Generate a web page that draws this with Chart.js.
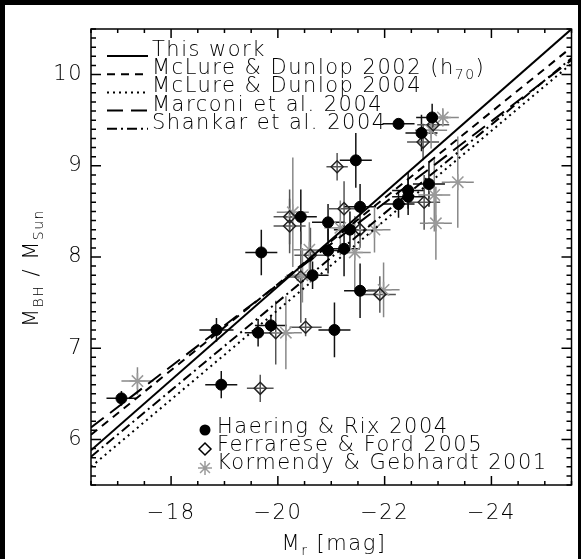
<!DOCTYPE html>
<html>
<head>
<meta charset="utf-8">
<script src="https://cdn.jsdelivr.net/npm/chart.js@4.4.0/dist/chart.umd.min.js"></script>
<style>
  html, body { margin: 0; padding: 0; background: #000; }
  #wrap { width: 581px; height: 559px; position: relative; }
</style>
</head>
<body>
<div id="wrap"><canvas id="chart"></canvas></div>
<script>
const FONT = "'DejaVu Sans', sans-serif";
const WEIGHT = 200;

// axis ranges and tick labels
const magRange = [-25.5, -16.5];
const mbhRange = [5.5, 10.5];
const xTickValues = [-24, -22, -20, -18];
const yTickValues = [6, 7, 8, 9, 10];

// Haering & Rix 2004
const haeringMag = [-17.07, -18.85, -18.94, -19.63, -19.87, -19.69, -21.06, -20.43, -20.94, -20.94, -21.24, -21.35,
  -21.54, -21.54, -21.46, -22.26, -22.69, -22.89, -22.26, -22.44, -22.44, -22.83, -20.65];
const haeringMbh = [6.45, 7.20, 6.60, 7.17, 7.25, 8.05, 7.20, 8.44, 8.38, 8.07, 8.09, 8.30,
  8.55, 7.63, 9.06, 9.46, 9.36, 9.53, 8.58, 8.73, 8.66, 8.80, 7.80];
const haeringMagErr = [0.28, 0.32, 0.30, 0.25, 0.30, 0.30, 0.30, 0.30, 0.30, 0.30, 0.30, 0.30,
  0.30, 0.30, 0.30, 0.30, 0.30, 0.30, 0.30, 0.30, 0.30, 0.30, 0.30];
const haeringMbhErr = [0.08, 0.13, 0.15, 0.15, 0.10, 0.25, 0.30, 0.30, 0.20, 0.25, 0.30, 0.20,
  0.25, 0.30, 0.30, 0.05, 0.20, 0.15, 0.15, 0.20, 0.20, 0.25, 0.15];

// Ferrarese & Ford 2005
const ferrMag = [-19.67, -19.96, -20.52, -20.22, -20.22, -20.61, -20.43, -21.11, -21.24, -21.54, -21.91, -22.74, -22.72, -22.91];
const ferrMbh = [6.56, 7.17, 7.23, 8.44, 8.34, 8.02, 7.78, 8.99, 8.53, 8.30, 7.59, 8.60, 9.26, 9.45];
const ferrMagErr = [0.25, 0.30, 0.30, 0.30, 0.30, 0.30, 0.30, 0.20, 0.30, 0.30, 0.30, 0.30, 0.30, 0.30];
const ferrMbhErr = [0.15, 0.35, 0.10, 0.30, 0.30, 0.30, 0.50, 0.15, 0.30, 0.20, 0.20, 0.30, 0.20, 0.10];

// Kormendy & Gebhardt 2001
const kormMag = [-17.37, -20.15, -20.28, -20.59, -20.46, -21.17, -21.44, -21.81, -21.98, -23.09, -23.37, -22.93, -22.96, -22.87];
const kormMbh = [6.64, 7.17, 8.49, 8.08, 7.80, 8.32, 8.05, 8.30, 7.64, 9.53, 8.82, 8.68, 8.37, 9.39];
const kormMagErr = [0.30, 0.30, 0.30, 0.30, 0.30, 0.30, 0.30, 0.30, 0.30, 0.30, 0.30, 0.30, 0.30, 0.30];
const kormMbhErr = [0.15, 0.40, 0.60, 0.30, 0.30, 0.30, 0.40, 0.25, 0.30, 0.10, 0.50, 0.40, 0.40, 0.20];

// fitted relations, value at the faint and bright ends of the axis
const fitNames = ['This work', 'McLure & Dunlop 2002 (h', 'McLure & Dunlop 2004', 'Marconi et al. 2004', 'Shankar et al. 2004'];
const fitMagEnds = [-16.5, -25.5];
const fitAtFaint = [5.88, 6.05, 5.70, 6.13, 5.81];
const fitAtBright = [10.50, 10.30, 10.12, 10.16, 10.18];
const fitDashes = [[], [8, 6], [2, 4], [16, 8], [10, 4, 2, 4]];

const sampleNames = ['Haering & Rix 2004', 'Ferrarese & Ford 2005', 'Kormendy & Gebhardt 2001'];

const toPoints = (xs, ys) => xs.map((v, i) => ({ x: v, y: ys[i] }));

function drawRich(ctx, parts, x, y, align) {
  let w = 0;
  const fontOf = p => WEIGHT + ' ' + (p.sub ? '14px ' : '21px ') + FONT;
  parts.forEach(p => { ctx.font = fontOf(p); w += ctx.measureText(p.t).width; });
  let cx = align === 'center' ? x - w / 2 : x;
  parts.forEach(p => {
    ctx.font = fontOf(p);
    ctx.fillText(p.t, cx, p.sub ? y + 5 : y);
    cx += ctx.measureText(p.t).width;
  });
}

const errorBars = {
  id: 'errorBars',
  beforeDatasetsDraw(chart) {
    const { ctx, chartArea, scales: { x, y } } = chart;
    ctx.save();
    ctx.beginPath();
    ctx.rect(chartArea.left, chartArea.top, chartArea.width, chartArea.height);
    ctx.clip();
    chart.data.datasets.forEach(ds => {
      if (!ds.errX) return;
      ctx.strokeStyle = ds.errColor;
      ctx.lineWidth = 1.5;
      ds.data.forEach((p, i) => {
        const px = x.getPixelForValue(p.x), py = y.getPixelForValue(p.y);
        ctx.beginPath();
        ctx.moveTo(x.getPixelForValue(p.x - ds.errX[i]), py);
        ctx.lineTo(x.getPixelForValue(p.x + ds.errX[i]), py);
        ctx.moveTo(px, y.getPixelForValue(p.y - ds.errY[i]));
        ctx.lineTo(px, y.getPixelForValue(p.y + ds.errY[i]));
        ctx.stroke();
      });
    });
    ctx.restore();
  }
};

const decorations = {
  id: 'decorations',
  beforeDraw(chart) {
    const ctx = chart.ctx;
    ctx.fillStyle = '#000';
    ctx.fillRect(0, 0, chart.width, chart.height);
    ctx.fillStyle = '#fff';
    ctx.fillRect(5, 5, 573, chart.height - 5);
    ctx.letterSpacing = '1.5px';
  },
  afterDraw(chart) {
    const { ctx, chartArea: a, scales: { x, y } } = chart;
    ctx.save();
    ctx.strokeStyle = '#000';
    ctx.lineWidth = 1.5;
    ctx.strokeRect(a.left, a.top, a.width, a.height);

    // inward ticks on all four sides
    ctx.beginPath();
    for (let k = 0; k <= 18; k++) {
      const v = magRange[0] + k * 0.5;
      const len = Math.abs(v % 2) < 1e-6 ? 9 : 4;
      const px = x.getPixelForValue(v);
      ctx.moveTo(px, a.bottom); ctx.lineTo(px, a.bottom - len);
      ctx.moveTo(px, a.top); ctx.lineTo(px, a.top + len);
    }
    for (let k = 0; k <= 50; k++) {
      const v = mbhRange[0] + k * 0.1;
      const len = k % 10 === 5 ? 10 : 5;
      const py = y.getPixelForValue(v);
      ctx.moveTo(a.left, py); ctx.lineTo(a.left + len, py);
      ctx.moveTo(a.right, py); ctx.lineTo(a.right - len, py);
    }
    ctx.stroke();

    ctx.fillStyle = '#000';
    ctx.textAlign = 'left';
    ctx.textBaseline = 'alphabetic';
    ctx.letterSpacing = '1.5px';

    // fit legend
    chart.data.datasets.filter(ds => ds.fitIndex !== undefined).forEach(ds => {
      const i = ds.fitIndex;
      const by = 56 + i * 18.2;
      ctx.save();
      ctx.lineWidth = 2;
      ctx.setLineDash(ds.borderDash || []);
      ctx.beginPath();
      ctx.moveTo(107, by); ctx.lineTo(148, by);
      ctx.stroke();
      ctx.restore();
      const parts = i === 1 ? [{ t: fitNames[i] }, { t: '70', sub: true }, { t: ')' }] : [{ t: fitNames[i] }];
      drawRich(ctx, parts, 152, by, 'left');
    });

    // sample legend
    const mx = 205;
    const rows = [433, 451, 469];
    ctx.fillStyle = '#000';
    ctx.beginPath(); ctx.arc(mx, rows[0] - 3, 5.5, 0, Math.PI * 2); ctx.fill();
    ctx.lineWidth = 1.5;
    ctx.beginPath();
    ctx.moveTo(mx - 6, rows[1] - 2); ctx.lineTo(mx, rows[1] - 8); ctx.lineTo(mx + 6, rows[1] - 2); ctx.lineTo(mx, rows[1] + 4);
    ctx.closePath(); ctx.stroke();
    ctx.strokeStyle = '#9a9a9a';
    ctx.beginPath();
    const sy = rows[2] - 1, r = 7;
    for (let k = 0; k < 4; k++) {
      const ang = k * Math.PI / 4;
      ctx.moveTo(mx - r * Math.cos(ang), sy - r * Math.sin(ang));
      ctx.lineTo(mx + r * Math.cos(ang), sy + r * Math.sin(ang));
    }
    ctx.stroke();
    sampleNames.forEach((n, i) => drawRich(ctx, [{ t: n }], 217, rows[i], 'left'));

    // axis titles
    drawRich(ctx, [{ t: 'M' }, { t: 'r', sub: true }, { t: ' [mag]' }], 334, 550, 'center');
    ctx.translate(38, 268);
    ctx.rotate(-Math.PI / 2);
    drawRich(ctx, [{ t: 'M' }, { t: 'BH', sub: true }, { t: ' / M' }, { t: 'Sun', sub: true }], 0, 0, 'center');
    ctx.restore();
  }
};

const fitDatasets = fitNames.map((n, i) => ({
  label: n,
  fitIndex: i,
  data: toPoints(fitMagEnds, [fitAtFaint[i], fitAtBright[i]]),
  showLine: true,
  borderColor: '#000',
  borderWidth: 2,
  borderDash: fitDashes[i],
  pointRadius: 0
}));

new Chart(document.getElementById('chart'), {
  type: 'scatter',
  data: {
    datasets: [
      ...fitDatasets,
      {
        label: sampleNames[0],
        data: toPoints(haeringMag, haeringMbh),
        errX: haeringMagErr, errY: haeringMbhErr, errColor: '#111',
        pointStyle: 'circle', pointRadius: 5.5,
        backgroundColor: '#000', borderColor: '#000', borderWidth: 1
      },
      {
        label: sampleNames[1],
        data: toPoints(ferrMag, ferrMbh),
        errX: ferrMagErr, errY: ferrMbhErr, errColor: '#555',
        pointStyle: 'rectRot', pointRadius: 6,
        backgroundColor: 'rgba(255,255,255,0)', borderColor: '#222', borderWidth: 1.5
      },
      {
        label: sampleNames[2],
        data: toPoints(kormMag, kormMbh),
        errX: kormMagErr, errY: kormMbhErr, errColor: '#888',
        pointStyle: 'star', pointRadius: 8,
        borderColor: '#9a9a9a', borderWidth: 1.5
      }
    ]
  },
  options: {
    responsive: true,
    maintainAspectRatio: false,
    animation: false,
    events: [],
    layout: { padding: { left: 0, top: 29, right: 4, bottom: 0 } },
    plugins: { legend: { display: false }, tooltip: { enabled: false } },
    scales: {
      x: {
        type: 'linear',
        reverse: true,
        bounds: 'data',
        min: magRange[0],
        max: magRange[1],
        grid: { display: false, drawTicks: false },
        border: { display: false },
        afterBuildTicks: s => { s.ticks = xTickValues.map(v => ({ value: v })); },
        afterFit: s => { s.height = 74; },
        ticks: {
          autoSkip: false,
          maxRotation: 0,
          padding: 16,
          color: '#000',
          font: { family: FONT, size: 21, weight: WEIGHT },
          callback: v => '\u2212' + Math.abs(v)
        }
      },
      y: {
        type: 'linear',
        bounds: 'data',
        min: mbhRange[0],
        max: mbhRange[1],
        grid: { display: false, drawTicks: false },
        border: { display: false },
        afterBuildTicks: s => { s.ticks = yTickValues.map(v => ({ value: v })); },
        afterFit: s => { s.width = 91; },
        ticks: {
          autoSkip: false,
          padding: 8,
          color: '#000',
          font: { family: FONT, size: 21, weight: WEIGHT },
          callback: v => String(v)
        }
      }
    }
  },
  plugins: [errorBars, decorations]
});
</script>
</body>
</html>
